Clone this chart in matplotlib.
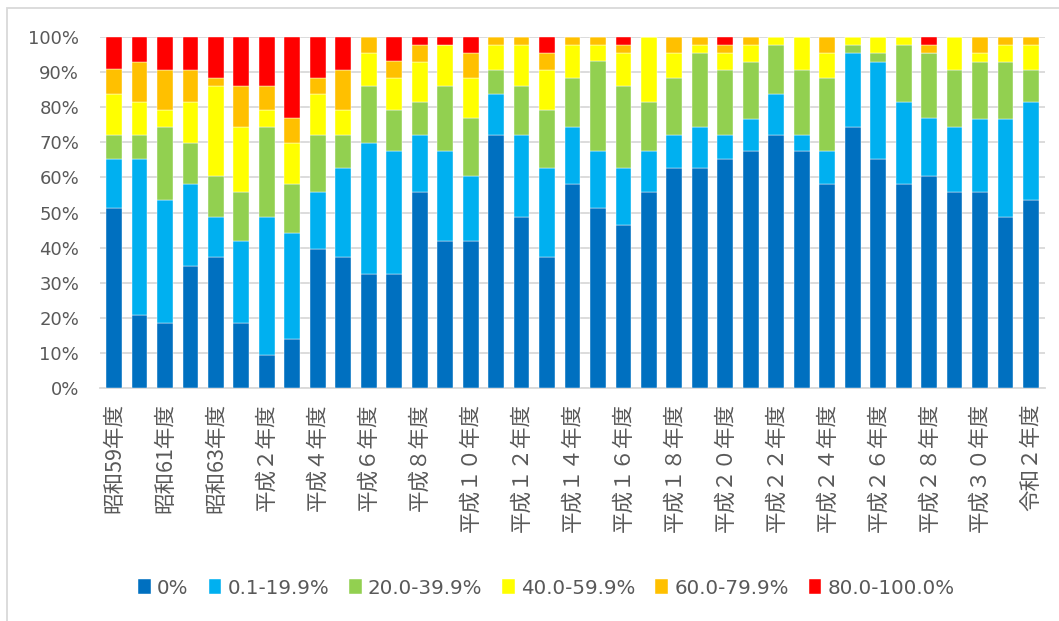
import numpy as np
import matplotlib
matplotlib.use("Agg")
import matplotlib.pyplot as plt
from matplotlib.patches import Rectangle

plt.rcParams['font.family'] = ['Noto Sans CJK JP', 'DejaVu Sans']

# fiscal years, 1984 - 2020
years = (["昭和59年度", "昭和60年度", "昭和61年度", "昭和62年度", "昭和63年度", "平成元年度"]
         + ["平成" + str(n).translate(str.maketrans("0123456789", "０１２３４５６７８９")) + "年度"
            for n in range(2, 31)]
         + ["令和元年度", "令和２年度"])

series_names = ["0%", "0.1-19.9%", "20.0-39.9%", "40.0-59.9%", "60.0-79.9%", "80.0-100.0%"]
colors = ["#0070C0", "#00B0F0", "#92D050", "#FFFF00", "#FFC000", "#FF0000"]

# share of sites in each band (%)
p0 = [51.2, 20.9, 18.6, 34.9, 37.2, 18.6, 9.3, 14.0, 39.5, 37.2, 32.6, 32.6, 55.8, 41.9, 41.9, 72.1,
      48.8, 37.2, 58.1, 51.2, 46.5, 55.8, 62.8, 62.8, 65.1, 67.4, 72.1, 67.4, 58.1, 74.4, 65.1, 58.1,
      60.5, 55.8, 55.8, 48.8, 53.5]
p1 = [14.0, 44.2, 34.9, 23.3, 11.6, 23.3, 39.5, 30.2, 16.3, 25.6, 37.2, 34.9, 16.3, 25.6, 18.6, 11.6,
      23.3, 25.6, 16.3, 16.3, 16.3, 11.6, 9.3, 11.6, 7.0, 9.3, 11.6, 4.7, 9.3, 20.9, 27.9, 23.3,
      16.3, 18.6, 20.9, 27.9, 27.9]
p2 = [7.0, 7.0, 20.9, 11.6, 11.6, 14.0, 25.6, 14.0, 16.3, 9.3, 16.3, 11.6, 9.3, 18.6, 16.3, 7.0,
      14.0, 16.3, 14.0, 25.6, 23.3, 14.0, 16.3, 20.9, 18.6, 16.3, 14.0, 18.6, 20.9, 2.3, 2.3, 16.3,
      18.6, 16.3, 16.3, 16.3, 9.3]
p3 = [11.6, 9.3, 4.7, 11.6, 25.6, 18.6, 4.7, 11.6, 11.6, 7.0, 9.3, 9.3, 11.6, 11.6, 11.6, 7.0,
      11.6, 11.6, 9.3, 4.7, 9.3, 18.6, 7.0, 2.3, 4.7, 4.7, 2.3, 9.3, 7.0, 2.3, 4.7, 2.3,
      0, 9.3, 2.3, 4.7, 7.0]
p4 = [7.0, 11.6, 11.6, 9.3, 2.3, 11.6, 7.0, 7.0, 4.7, 11.6, 4.7, 4.7, 4.7, 0, 7.0, 2.3,
      2.3, 4.7, 2.3, 2.3, 2.3, 0, 4.7, 2.3, 2.3, 2.3, 0, 0, 4.7, 0, 0, 0,
      2.3, 0, 4.7, 2.3, 2.3]
p5 = [9.3, 7.0, 9.3, 9.3, 11.6, 14.0, 14.0, 23.3, 11.6, 9.3, 0, 7.0, 2.3, 2.3, 4.7, 0,
      0, 4.7, 0, 0, 2.3, 0, 0, 0, 2.3, 0, 0, 0, 0, 0, 0, 0,
      2.3, 0, 0, 0, 0]

fig = plt.figure(figsize=(10.59, 6.21), dpi=100)
ax = fig.add_axes([100 / 1059, (621 - 388) / 621, 945 / 1059, 351 / 621])

x = np.arange(len(years))
bottom = np.zeros(len(years))
for vals, name, c in zip([p0, p1, p2, p3, p4, p5], series_names, colors):
    ax.bar(x, vals, 0.62, bottom=bottom, color=c, label=name,
           edgecolor="white", linewidth=0.3, zorder=3)
    bottom += np.array(vals)

ax.set_xlim(-0.55, len(years) - 0.45)
ax.set_ylim(0, 100)
ax.set_yticks(np.arange(0, 101, 10))
ax.set_yticklabels([f"{v}%" for v in range(0, 101, 10)], family="DejaVu Sans")
ax.set_xticks(x[::2])
ax.set_xticklabels(years[::2], rotation=90, fontsize=15.5, color="#595959")
ax.tick_params(axis="y", length=0, pad=15, labelsize=13, labelcolor="#595959")
ax.tick_params(axis="x", length=0, pad=11)

ax.grid(axis="y", color="#D9D9D9", linewidth=1.3, zorder=0)
for s in ["top", "right", "left"]:
    ax.spines[s].set_visible(False)
ax.spines["bottom"].set_color("#D9D9D9")
ax.spines["bottom"].set_linewidth(1.3)

fig.legend(loc="center", bbox_to_anchor=(0.516, 1 - 588 / 621), ncol=6, frameon=False,
           prop={"family": "DejaVu Sans", "size": 14.3}, handlelength=0.65, handleheight=0.75,
           handletextpad=0.3, columnspacing=1.0, labelcolor="#595959")

# chart area frame
fig.patches.append(Rectangle((7 / 1059, -0.1), 1.2, 1 - 8 / 621 + 0.1, transform=fig.transFigure,
                             fill=False, edgecolor="#D9D9D9", linewidth=1.3))

fig.savefig("out.png", dpi=100)
